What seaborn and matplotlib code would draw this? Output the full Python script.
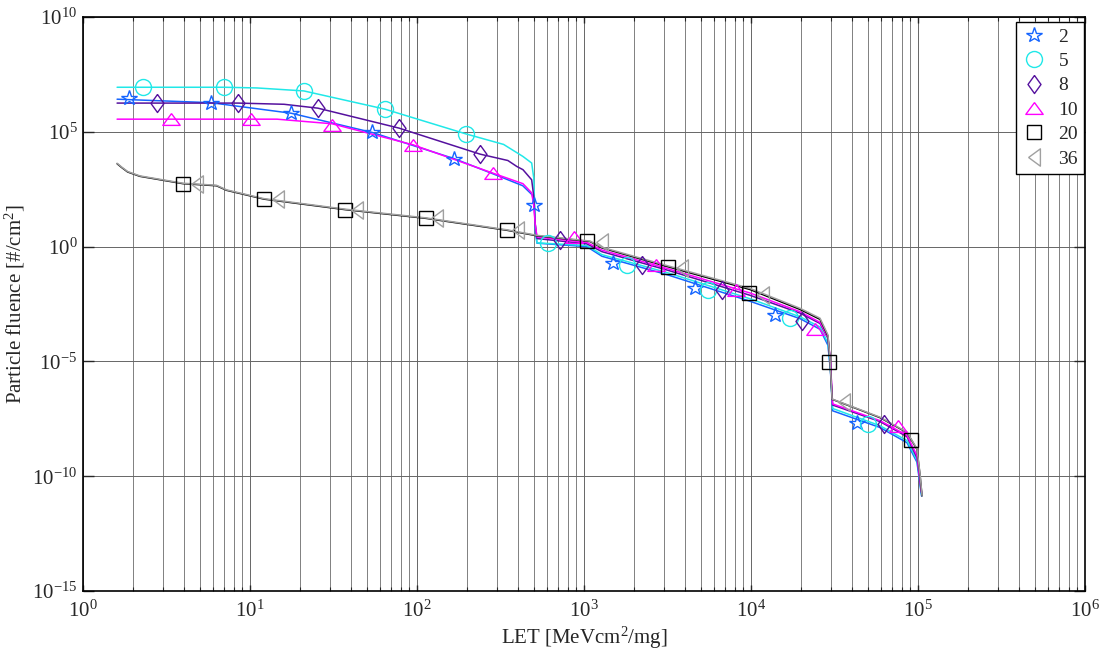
import numpy as np
import pandas as pd
import matplotlib
matplotlib.use("Agg")
import matplotlib.pyplot as plt
from matplotlib.ticker import (FixedLocator, NullLocator, NullFormatter,
                               LogFormatterSciNotation)
import seaborn as sns

# series names as in the legend
labels = ["2", "5", "8", "10", "20", "36"]

# ---- line data (LET in MeVcm2/mg, fluence in #/cm2) ----
let_2 = [1.6, 5.8, 17.6, 54, 167, 290, 430, 490, 505, 512, 523, 1040, 1280, 3140, 9860,
         19700, 25900, 28900, 29900, 30800, 59200, 85900, 98600, 105000]
flu_2 = [2.63e6, 1.86e6, 6.46e5, 9.33e4, 6.76e3, 1.41e3, 4.47e2, 1.78e2, 63, 3.98, 1.41, 1.0,
         0.38, 0.060, 4.17e-3, 7.24e-4, 2.51e-4, 5.01e-5, 3.98e-6, 7.08e-8, 1.32e-8, 2.88e-9,
         4.07e-10, 1.38e-11]

let_5 = [1.6, 7, 11, 21, 64, 196, 330, 430, 486, 500, 510, 523, 1040, 1280, 3140, 9860,
         19700, 25900, 28900, 29900, 30800, 59200, 85900, 98600, 105000]
flu_5 = [8.71e6, 8.71e6, 8.13e6, 6.03e6, 9.77e5, 8.13e4, 2.82e4, 8.51e3, 4.37e3, 1.0e3, 10, 1.45,
         1.12, 0.447, 0.0741, 5.37e-3, 8.71e-4, 3.16e-4, 6.31e-5, 5.01e-6, 8.91e-8, 1.58e-8,
         3.55e-9, 5.01e-10, 1.58e-11]

let_8 = [1.6, 8.5, 16, 25.5, 78, 238, 350, 396, 431, 486, 500, 510, 523, 1040, 1280, 3140, 9860,
         19700, 25900, 28900, 29900, 30800, 59200, 85900, 98600, 105000]
flu_8 = [1.78e6, 1.78e6, 1.58e6, 1.07e6, 1.45e5, 1.07e4, 5.62e3, 3.09e3, 2.24e3, 8.13e2, 1.58e2,
         10, 2.24, 1.32, 0.603, 0.0955, 7.59e-3, 1.26e-3, 4.47e-4, 1.0e-4, 7.94e-6, 1.26e-7,
         2.40e-8, 5.25e-9, 6.31e-10, 1.78e-11]

let_10 = [1.6, 14.5, 31, 95, 285, 431, 486, 500, 510, 523, 1040, 1280, 3140, 9860,
          19700, 25900, 28900, 29900, 30800, 59200, 85900, 98600, 105000]
flu_10 = [3.55e5, 3.55e5, 2.24e5, 2.69e4, 1.58e3, 5.50e2, 2.19e2, 63, 10, 2.63, 1.51, 0.708,
          0.112, 9.55e-3, 1.45e-3, 5.01e-4, 1.12e-4, 1.0e-5, 1.41e-7, 2.63e-8, 6.03e-9,
          7.94e-10, 2.0e-11]

let_20 = [1.6, 1.7, 1.85, 2.19, 3.97, 6.3, 7.25, 12.1, 37.1, 113, 346, 523, 1086, 1282, 3185,
          9860, 19700, 25900, 28900, 29700, 30600, 59200, 85900, 98600, 103000, 105700]
flu_20 = [4.07e3, 2.82e3, 1.78e3, 1.15e3, 5.50e2, 4.47e2, 2.82e2, 1.17e2, 40.7, 17.0, 5.13, 2.95,
          1.66, 0.871, 0.132, 0.0135, 1.82e-3, 6.76e-4, 1.26e-4, 1.23e-5, 2.24e-7, 3.55e-8,
          7.94e-9, 1.48e-9, 1.02e-10, 1.38e-11]

let_36 = [1.6, 1.7, 1.85, 2.19, 3.97, 6.3, 7.25, 12.1, 37.1, 113, 346, 523, 1086, 1282, 3185,
          9860, 19700, 25900, 28900, 29700, 30600, 59200, 85900, 98600, 103000, 105700]
flu_36 = [4.27e3, 2.95e3, 1.86e3, 1.20e3, 5.75e2, 4.68e2, 2.95e2, 1.23e2, 42.7, 17.8, 5.37, 3.09,
          1.74, 0.933, 0.145, 0.0151, 2.04e-3, 7.59e-4, 1.41e-4, 1.35e-5, 2.29e-7, 3.72e-8,
          8.32e-9, 1.58e-9, 1.10e-10, 1.45e-11]

# ---- marker positions ----
mk_let_2 = [1.88, 5.84, 17.6, 53.8, 167, 505, 1492, 4623, 13900, 43100]
mk_flu_2 = [2.92e6, 1.88e6, 6.50e5, 9.33e4, 6.70e3, 67, 0.195, 0.016, 1.10e-3, 2.01e-8]
mk_let_5 = [2.29, 6.99, 21.1, 64.3, 196, 609, 1809, 5530, 17100, 50200]
mk_flu_5 = [8.77e6, 8.77e6, 6.07e6, 9.70e5, 8.19e4, 1.45, 0.165, 0.0135, 7.94e-4, 1.82e-8]
mk_let_8 = [2.77, 8.47, 25.5, 78, 238, 718, 2223, 6700, 20200, 62500]
mk_flu_8 = [1.77e6, 1.88e6, 1.07e6, 1.45e5, 1.07e4, 2.01, 0.165, 0.0135, 5.50e-4, 1.82e-8]
mk_let_10 = [3.37, 10.1, 31, 94.6, 285, 871, 2698, 8130, 24200, 75800]
mk_flu_10 = [3.56e5, 3.56e5, 2.01e5, 2.72e4, 1.60e3, 2.64, 0.165, 0.0135, 2.46e-4, 1.55e-8]
mk_let_20 = [3.97, 12.1, 37.1, 113, 346, 1042, 3185, 9730, 29200, 90800]
mk_flu_20 = [548, 119, 40.6, 17.0, 5.12, 1.70, 0.131, 9.70e-3, 9.70e-6, 3.78e-9]
mk_let_36 = [4.81, 14.7, 43.7, 132, 402, 1282, 3863, 11800, 36100]
mk_flu_36 = [548, 117, 40.7, 17.0, 5.13, 1.58, 0.119, 8.18e-3, 1.78e-7]

# axis ticks
x_major = [1e0, 1e1, 1e2, 1e3, 1e4, 1e5, 1e6]
x_minor = [m * d for d in [1e0, 1e1, 1e2, 1e3, 1e4, 1e5] for m in range(2, 10)]
y_major = [1e-15, 1e-10, 1e-5, 1e0, 1e5, 1e10]

line_let = [let_2, let_5, let_8, let_10, let_20, let_36]
line_flu = [flu_2, flu_5, flu_8, flu_10, flu_20, flu_36]
mk_let = [mk_let_2, mk_let_5, mk_let_8, mk_let_10, mk_let_20, mk_let_36]
mk_flu = [mk_flu_2, mk_flu_5, mk_flu_8, mk_flu_10, mk_flu_20, mk_flu_36]

colors = ["#1565ff", "#20e8e8", "#55119e", "#ff00ff", "#000000", "#a0a0a0"]
diamond = [(0, 1), (0.72, 0), (0, -1), (-0.72, 0), (0, 1)]
tri_up = [(0, 0.68), (1, -0.68), (-1, -0.68), (0, 0.68)]
tri_left = [(-0.68, 0), (0.68, 1), (0.68, -1), (-0.68, 0)]
markers = ["*", "o", diamond, tri_up, "s", tri_left]
msizes = [11.5, 11.5, 13, 12.5, 9.5, 12.5]

df = pd.concat([pd.DataFrame({"LET": x, "fluence": y, "series": s})
                for x, y, s in zip(line_let, line_flu, labels)], ignore_index=True)

sns.set_style("ticks")
plt.rcParams["font.family"] = ["Liberation Serif", "DejaVu Serif"]
plt.rcParams["mathtext.fontset"] = "custom"
plt.rcParams["mathtext.rm"] = "Liberation Serif"
plt.rcParams["mathtext.it"] = "Liberation Serif:italic"

fig = plt.figure(figsize=(11.03, 6.49), dpi=100)
ax = fig.add_axes([83 / 1103, 58 / 649, 1002 / 1103, 574 / 649])
ax.set_xscale("log")
ax.set_yscale("log")

sns.lineplot(data=df, x="LET", y="fluence", hue="series", hue_order=labels,
             palette=dict(zip(labels, colors)), sort=False, estimator=None,
             linewidth=1.1, legend=False, ax=ax, zorder=3)

handles = []
for xs, ys, c, m, ms, lab in zip(mk_let, mk_flu, colors, markers, msizes, labels):
    h, = ax.plot(xs, ys, linestyle="none", marker=m, markersize=ms, markerfacecolor="none",
                 markeredgecolor=c, markeredgewidth=1.0, label=lab, zorder=4)
    handles.append(h)

ax.set_xlim(1, 1e6)
ax.set_ylim(1e-15, 1e10)
ax.xaxis.set_major_locator(FixedLocator(x_major))
ax.xaxis.set_minor_locator(FixedLocator(x_minor))
ax.xaxis.set_major_formatter(LogFormatterSciNotation())
ax.xaxis.set_minor_formatter(NullFormatter())
ax.yaxis.set_major_locator(FixedLocator(y_major))
ax.yaxis.set_minor_locator(NullLocator())
ax.yaxis.set_major_formatter(LogFormatterSciNotation())

ax.grid(which="major", axis="both", color="0.4", linewidth=0.7)
ax.grid(which="minor", axis="x", color="0.5", linewidth=0.7)
ax.set_axisbelow(True)

ax.tick_params(which="both", direction="in", top=True, right=True, labelsize=15)
ax.tick_params(axis="x", which="major", length=4, width=1, pad=7)
ax.tick_params(axis="x", which="minor", length=3, width=0.8)
ax.tick_params(axis="y", which="major", length=8, width=1, pad=4)
for sp in ax.spines.values():
    sp.set_linewidth(1.2)
    sp.set_color("black")

ax.set_xlabel("LET [MeVcm$^{2}$/mg]", fontsize=15, labelpad=2)
ax.set_ylabel("Particle fluence [#/cm$^{2}$]", fontsize=15, labelpad=4)

leg = ax.legend(handles=handles, loc="upper right", bbox_to_anchor=(0.999, 0.991),
                borderaxespad=0, fontsize=14, frameon=True, fancybox=False,
                handlelength=1.3, handletextpad=0.6, labelspacing=0.35, borderpad=0.3)
leg.get_frame().set_edgecolor("black")
leg.get_frame().set_linewidth(1.0)
leg.get_frame().set_alpha(1)

fig.savefig("out.png", dpi=100)
